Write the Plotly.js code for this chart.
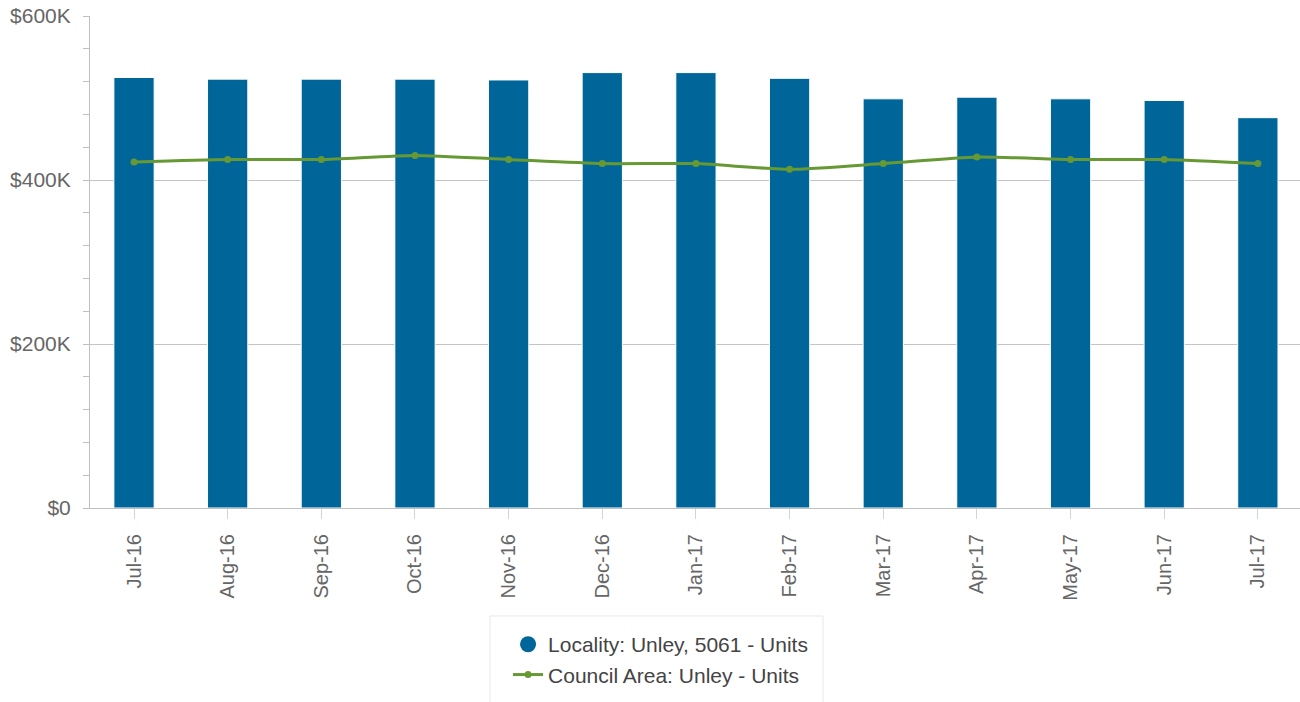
<!DOCTYPE html>
<html>
<head>
<meta charset="utf-8">
<script src="https://cdn.plot.ly/plotly-3.0.1.min.js"></script>
<style>
  html, body { margin: 0; padding: 0; background: #ffffff; }
  #chart { width: 1300px; height: 702px; }
</style>
</head>
<body>
<div id="chart"></div>
<script>
const months = ["Jul-16", "Aug-16", "Sep-16", "Oct-16", "Nov-16", "Dec-16", "Jan-17", "Feb-17", "Mar-17", "Apr-17", "May-17", "Jun-17", "Jul-17"];
const localityUnits = [525000, 523000, 523000, 523000, 522000, 531000, 531000, 524000, 499000, 501000, 499000, 497000, 476000];
const councilUnits = [422000, 425000, 425000, 430000, 425000, 420000, 420000, 413000, 420000, 428000, 425000, 425000, 420000];
const yTickVals = [0, 200000, 400000, 600000];
const yTickText = ["$0", "$200K", "$400K", "$600K"];
const seriesNames = ["Locality: Unley, 5061 - Units", "Council Area: Unley - Units"];

const barColor = "#006699";
const lineColor = "#669933";

const traces = [
  {
    type: "bar",
    x: months,
    y: localityUnits,
    name: seriesNames[0],
    showlegend: false,
    width: 0.43,
    marker: { color: barColor, line: { color: "#ffffff", width: 1 } },
    hoverinfo: "x+y"
  },
  {
    type: "scatter",
    mode: "markers",
    x: [null],
    y: [null],
    name: seriesNames[0],
    legendgroup: "a",
    marker: { color: barColor, size: 18, symbol: "circle" },
    hoverinfo: "skip"
  },
  {
    type: "scatter",
    mode: "lines+markers",
    x: months,
    y: councilUnits,
    name: seriesNames[1],
    legendgroup: "b",
    line: { color: lineColor, width: 3, shape: "spline", smoothing: 0.6 },
    marker: { color: lineColor, size: 7 }
  }
];

const layout = {
  width: 1300,
  height: 702,
  margin: { l: 90, r: 0, t: 16, b: 194 },
  paper_bgcolor: "#ffffff",
  plot_bgcolor: "#ffffff",
  font: { family: "Liberation Sans, Arial, sans-serif", color: "#666666", size: 21 },
  showlegend: true,
  xaxis: {
    type: "category",
    range: [-0.47, 12.45],
    tickangle: -90,
    ticks: "outside",
    ticklen: 10,
    tickcolor: "#ccd6eb",
    tickwidth: 1,
    showline: true,
    linecolor: "#c0c0c0",
    linewidth: 1,
    showgrid: false,
    tickfont: { size: 20, color: "#666666" },
    ticklabelstandoff: 7
  },
  yaxis: {
    range: [0, 600000],
    tickvals: yTickVals,
    ticktext: yTickText,
    showline: true,
    linecolor: "#c0c0c0",
    linewidth: 1,
    ticks: "outside",
    ticklen: 6,
    tickcolor: "#c0c0c0",
    showgrid: true,
    gridcolor: "#c4c4c4",
    gridwidth: 1,
    zeroline: false,
    tickfont: { size: 21, color: "#666666" },
    ticklabelstandoff: 8,
    minor: { dtick: 40000, ticks: "outside", ticklen: 6, tickcolor: "#c0c0c0", showgrid: false }
  },
  shapes: [
    {
      type: "rect",
      xref: "paper",
      yref: "paper",
      x0: 0.3306,
      x1: 0.6058,
      y0: -0.2195,
      y1: -0.45,
      line: { color: "#e8e8e8", width: 1 },
      fillcolor: "rgba(0,0,0,0)",
      layer: "below"
    }
  ],
  legend: {
    orientation: "v",
    x: 0.3455,
    xanchor: "left",
    y: -0.236,
    yanchor: "top",
    bgcolor: "rgba(0,0,0,0)",
    borderwidth: 0,
    font: { size: 21, color: "#444444" },
    traceorder: "grouped",
    tracegroupgap: 0
  }
};

Plotly.newPlot("chart", traces, layout, { displayModeBar: false, staticPlot: true });
</script>
</body>
</html>
